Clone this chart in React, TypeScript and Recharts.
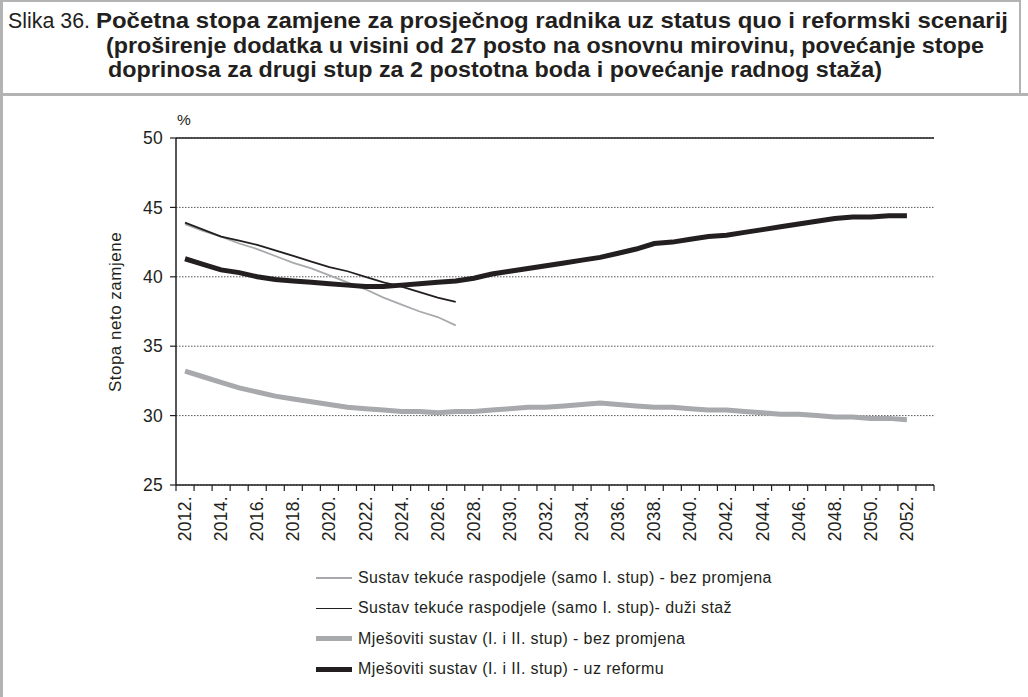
import React from "react";
import {
  LineChart,
  Line,
  XAxis,
  YAxis,
  CartesianGrid,
  ReferenceLine,
} from "recharts";

// ---------- DATA ----------
const years = [
  2012, 2013, 2014, 2015, 2016, 2017, 2018, 2019, 2020, 2021, 2022, 2023, 2024,
  2025, 2026, 2027, 2028, 2029, 2030, 2031, 2032, 2033, 2034, 2035, 2036, 2037,
  2038, 2039, 2040, 2041, 2042, 2043, 2044, 2045, 2046, 2047, 2048, 2049, 2050,
  2051, 2052, 2053,
];

// Sustav tekuće raspodjele (samo I. stup) - bez promjena (2012-2027)
const payg_noChange = [
  43.8, 43.3, 42.9, 42.4, 42.0, 41.5, 41.0, 40.6, 40.1, 39.6, 39.1, 38.5, 38.0,
  37.5, 37.1, 36.5,
];
// Sustav tekuće raspodjele (samo I. stup)- duži staž (2012-2027)
const payg_longer = [
  43.9, 43.4, 42.9, 42.6, 42.3, 41.9, 41.5, 41.1, 40.7, 40.4, 40.0, 39.6, 39.3,
  38.9, 38.5, 38.2,
];
// Mješoviti sustav (I. i II. stup) - bez promjena (2012-2052)
const mixed_noChange = [
  33.2, 32.8, 32.4, 32.0, 31.7, 31.4, 31.2, 31.0, 30.8, 30.6, 30.5, 30.4, 30.3,
  30.3, 30.2, 30.3, 30.3, 30.4, 30.5, 30.6, 30.6, 30.7, 30.8, 30.9, 30.8, 30.7,
  30.6, 30.6, 30.5, 30.4, 30.4, 30.3, 30.2, 30.1, 30.1, 30.0, 29.9, 29.9, 29.8,
  29.8, 29.7,
];
// Mješoviti sustav (I. i II. stup) - uz reformu (2012-2052)
const mixed_reform = [
  41.3, 40.9, 40.5, 40.3, 40.0, 39.8, 39.7, 39.6, 39.5, 39.4, 39.3, 39.3, 39.4,
  39.5, 39.6, 39.7, 39.9, 40.2, 40.4, 40.6, 40.8, 41.0, 41.2, 41.4, 41.7, 42.0,
  42.4, 42.5, 42.7, 42.9, 43.0, 43.2, 43.4, 43.6, 43.8, 44.0, 44.2, 44.3, 44.3,
  44.4, 44.4,
];

const yTicks = [25, 30, 35, 40, 45, 50];

const seriesNames = [
  "Sustav tekuće raspodjele (samo I. stup) - bez promjena",
  "Sustav tekuće raspodjele (samo I. stup)- duži staž",
  "Mješoviti sustav (I. i II. stup) - bez promjena",
  "Mješoviti sustav (I. i II. stup) - uz reformu",
];

const titleLabel = "Slika 36.";
const titleLines = [
  "Početna stopa zamjene za prosječnog radnika uz status quo i reformski scenarij",
  "(proširenje dodatka u visini od 27 posto na osnovnu mirovinu, povećanje stope",
  "doprinosa za drugi stup za 2 postotna boda i povećanje radnog staža)",
];
const yAxisTitle = "Stopa neto zamjene";
const unitLabel = "%";

// ---------- TABLE ----------
const data = years.map((y, i) => ({
  year: `${y}.`,
  a: i < payg_noChange.length ? payg_noChange[i] : null,
  b: i < payg_longer.length ? payg_longer[i] : null,
  c: i < mixed_noChange.length ? mixed_noChange[i] : null,
  d: i < mixed_reform.length ? mixed_reform[i] : null,
}));

// ---------- STYLE ----------
const INK = "#231f20";
const GRAY = "#a7a9ac";
const FONT = "'Liberation Sans', Arial, sans-serif";
const W = 1028;
const H = 697;
const M = { top: 138, right: 94, left: 116, bottom: 162 };
const Y_AXIS_W = 60;
const X_AXIS_H = 50;
const PLOT_BOTTOM = H - M.bottom - X_AXIS_H;
const PLOT_W = W - M.left - Y_AXIS_W - M.right;
const BAND = PLOT_W / years.length;

const seriesStyles = [
  { key: "a", color: GRAY, width: 1.8 },
  { key: "b", color: INK, width: 1.8 },
  { key: "c", color: GRAY, width: 5 },
  { key: "d", color: INK, width: 5 },
];

const XTick = (props: any) => {
  const { x, payload, index } = props;
  const half = BAND / 2;
  const last = index === years.length - 1;
  return (
    <g>
      <line
        x1={x - half}
        x2={x - half}
        y1={PLOT_BOTTOM}
        y2={PLOT_BOTTOM + 6}
        stroke={INK}
        strokeWidth={1.2}
      />
      {last && (
        <line
          x1={x + half}
          x2={x + half}
          y1={PLOT_BOTTOM}
          y2={PLOT_BOTTOM + 6}
          stroke={INK}
          strokeWidth={1.2}
        />
      )}
      {index % 2 === 0 && (
        <text
          x={0}
          y={0}
          transform={`translate(${x},${PLOT_BOTTOM + 11}) rotate(-90)`}
          textAnchor="end"
          dominantBaseline="central"
          fill={INK}
          fontSize={17.5}
          letterSpacing={0.3}
          fontFamily={FONT}
        >
          {payload.value}
        </text>
      )}
    </g>
  );
};

export default function App() {
  return (
    <div
      style={{
        position: "absolute",
        left: 0,
        top: 0,
        width: W,
        height: H,
        background: "#fff",
        overflow: "hidden",
        fontFamily: FONT,
      }}
    >
      {/* frame + title */}
      <svg
        width={W}
        height={H}
        style={{ position: "absolute", left: 0, top: 0 }}
      >
        <rect x={0} y={0} width={3} height={H} fill="#b3b3b3" />
        <rect x={0} y={0} width={1021} height={2} fill="#b3b3b3" />
        <rect x={1019} y={0} width={2} height={96} fill="#b3b3b3" />
        <rect x={0} y={93} width={W} height={3} fill="#b3b3b3" />
        <text
          x={8}
          y={28}
          fontSize={22}
          fill={INK}
          fontFamily={FONT}
          textLength={82}
          lengthAdjust="spacingAndGlyphs"
        >
          {titleLabel}
        </text>
        <text
          x={96}
          y={28}
          fontSize={22}
          fontWeight="bold"
          fill={INK}
          fontFamily={FONT}
          textLength={912}
          lengthAdjust="spacingAndGlyphs"
        >
          {titleLines[0]}
        </text>
        <text
          x={106}
          y={53}
          fontSize={22}
          fontWeight="bold"
          fill={INK}
          fontFamily={FONT}
          textLength={878}
          lengthAdjust="spacingAndGlyphs"
        >
          {titleLines[1]}
        </text>
        <text
          x={108}
          y={77}
          fontSize={22}
          fontWeight="bold"
          fill={INK}
          fontFamily={FONT}
          textLength={774}
          lengthAdjust="spacingAndGlyphs"
        >
          {titleLines[2]}
        </text>
        <text x={177} y={125} fontSize={15.5} fill={INK} fontFamily={FONT}>
          {unitLabel}
        </text>
        <text
          x={0}
          y={0}
          transform={`translate(115,312) rotate(-90)`}
          textAnchor="middle"
          dominantBaseline="central"
          fontSize={17}
          letterSpacing={0.5}
          fill={INK}
          fontFamily={FONT}
        >
          {yAxisTitle}
        </text>
      </svg>

      <div style={{ position: "absolute", left: 0, top: 0 }}>
        <LineChart width={W} height={H} data={data} margin={M}>
          <CartesianGrid
            horizontal
            vertical={false}
            stroke="#555"
            strokeDasharray="1.5 1.5"
            strokeWidth={1}
          />
          <ReferenceLine y={50} stroke={INK} strokeWidth={1.5} ifOverflow="extendDomain" />
          <XAxis
            dataKey="year"
            scale="band"
            interval={0}
            tickLine={false}
            axisLine={{ stroke: INK, strokeWidth: 1.5 }}
            height={X_AXIS_H}
            tick={<XTick />}
          />
          <YAxis
            domain={[25, 50]}
            ticks={yTicks}
            width={Y_AXIS_W}
            tickSize={6}
            tickMargin={7}
            axisLine={{ stroke: INK, strokeWidth: 1.5 }}
            tickLine={{ stroke: INK, strokeWidth: 1.2 }}
            tick={{
              fill: INK,
              fontSize: 17.5,
              letterSpacing: 0.3,
              fontFamily: FONT,
            }}
          />
          <YAxis
            yAxisId="right"
            orientation="right"
            domain={[25, 50]}
            width={0}
            tick={false}
            tickLine={false}
            axisLine={{ stroke: "#6d6d6d", strokeWidth: 2 }}
          />
          {seriesStyles.map((s) => (
            <Line
              key={s.key}
              type="linear"
              dataKey={s.key}
              stroke={s.color}
              strokeWidth={s.width}
              dot={false}
              activeDot={false}
              isAnimationActive={false}
            />
          ))}
        </LineChart>
      </div>

      {/* legend */}
      <div style={{ position: "absolute", left: 316, top: 563 }}>
        {seriesNames.map((name, i) => (
          <div
            key={name}
            style={{
              display: "flex",
              alignItems: "center",
              height: 30.3,
            }}
          >
            <div
              style={{
                width: 36,
                height: seriesStyles[i].width,
                background: seriesStyles[i].color,
                marginRight: 6,
              }}
            />
            <span
              style={{
                fontSize: 16,
                letterSpacing: 0.4,
                color: INK,
                whiteSpace: "nowrap",
              }}
            >
              {name}
            </span>
          </div>
        ))}
      </div>
    </div>
  );
}
